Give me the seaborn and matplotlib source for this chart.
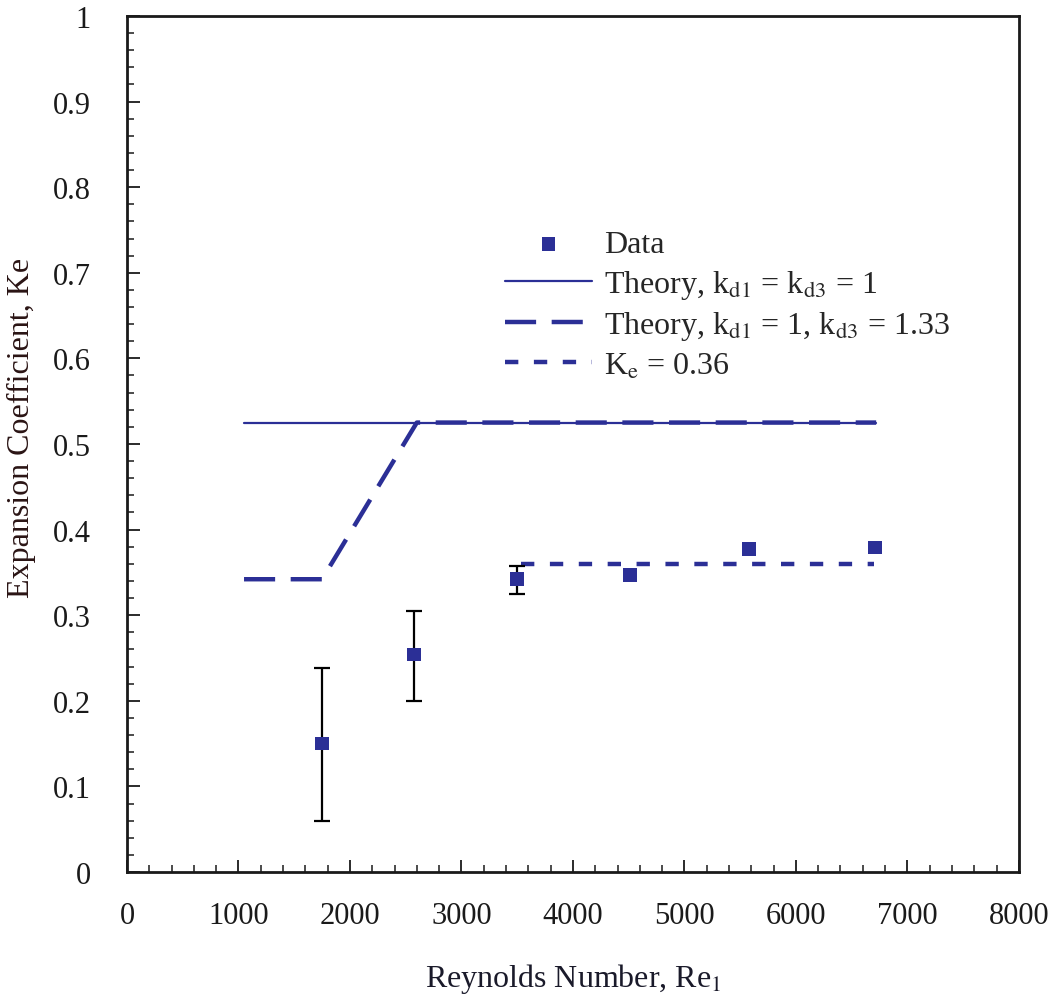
import matplotlib
matplotlib.use('Agg')
import matplotlib.pyplot as plt
from matplotlib.ticker import MultipleLocator, FormatStrFormatter
import numpy as np
import seaborn as sns

# measured data
re_data = [1750, 2575, 3500, 4510, 5580, 6710]
ke_data = [0.150, 0.254, 0.342, 0.347, 0.377, 0.379]
err_low = [0.090, 0.054, 0.017, 0.0, 0.0, 0.0]
err_high = [0.088, 0.051, 0.016, 0.0, 0.0, 0.0]

# theory, kd1 = kd3 = 1
re_th1 = [1050, 6720]
ke_th1 = [0.525, 0.525]

# theory, kd1 = 1, kd3 = 1.33
re_th2 = [1050, 1750, 2600, 6720]
ke_th2 = [0.342, 0.342, 0.525, 0.525]

# Ke = 0.36
re_const = [3530, 6700]
ke_const = [0.36, 0.36]

blue = '#2B2F96'

sns.set_theme(style='white')
plt.rcParams['font.family'] = ['Liberation Serif', 'DejaVu Serif']
plt.rcParams['mathtext.fontset'] = 'stix'

fig, ax = plt.subplots(figsize=(10.58, 9.95), dpi=100)
fig.subplots_adjust(left=0.12, right=0.963, bottom=0.1226, top=0.983)

sns.lineplot(x=re_th1, y=ke_th1, ax=ax, color=blue, lw=1.6,
             label=r'Theory, k$_{\rm d1}$ = k$_{\rm d3}$ = 1')
sns.lineplot(x=re_th2, y=ke_th2, ax=ax, color=blue, lw=3.2,
             linestyle=(0, (7, 3.5)),
             label=r'Theory, k$_{\rm d1}$ = 1, k$_{\rm d3}$ = 1.33')
sns.lineplot(x=re_const, y=ke_const, ax=ax, color=blue, lw=3.2,
             linestyle=(0, (3, 3.5)), label=r'K$_{\rm e}$ = 0.36')

# error bars (only the first three points have them)
ax.errorbar(re_data[:3], ke_data[:3], yerr=[err_low[:3], err_high[:3]],
            fmt='none', ecolor='black', elinewidth=1.6, capsize=6,
            capthick=1.6, zorder=3)
sns.scatterplot(x=re_data, y=ke_data, ax=ax, marker='s', s=95,
                color=blue, edgecolor='none', zorder=4, label='Data')

ax.set_xlim(0, 8000)
ax.set_ylim(0, 1)
ax.xaxis.set_major_locator(MultipleLocator(1000))
ax.xaxis.set_minor_locator(MultipleLocator(200))
ax.yaxis.set_major_locator(MultipleLocator(0.1))
ax.yaxis.set_minor_locator(MultipleLocator(0.02))
ax.yaxis.set_major_formatter(FormatStrFormatter('%g'))

ax.tick_params(which='both', direction='in', colors='#1a1a1a',
               labelsize=22, bottom=True, left=True, top=False, right=False)
ax.tick_params(which='major', length=9, width=1.3)
ax.tick_params(which='minor', length=5, width=1.1)
ax.tick_params(axis='x', which='major', pad=21)
ax.tick_params(axis='y', which='major', pad=26)
for s in ax.spines.values():
    s.set_color('#1a1a1a')
    s.set_linewidth(2)

ax.set_xlabel(r'Reynolds Number, Re$_{\rm 1}$', fontsize=23,
              color='#1a1a2a', labelpad=22)
ax.set_ylabel('Expansion Coefficient, Ke', fontsize=23, color='#2a1414')
ax.yaxis.set_label_coords(-0.102, 0.52)

handles, labels = ax.get_legend_handles_labels()
order = [3, 0, 1, 2]
ax.legend([handles[i] for i in order], [labels[i] for i in order],
          loc='upper left', bbox_to_anchor=(0.41, 0.765), frameon=False,
          fontsize=23, handlelength=2.7, handletextpad=0.4,
          labelspacing=0.27, borderaxespad=0)

fig.savefig('out.png', dpi=100)
